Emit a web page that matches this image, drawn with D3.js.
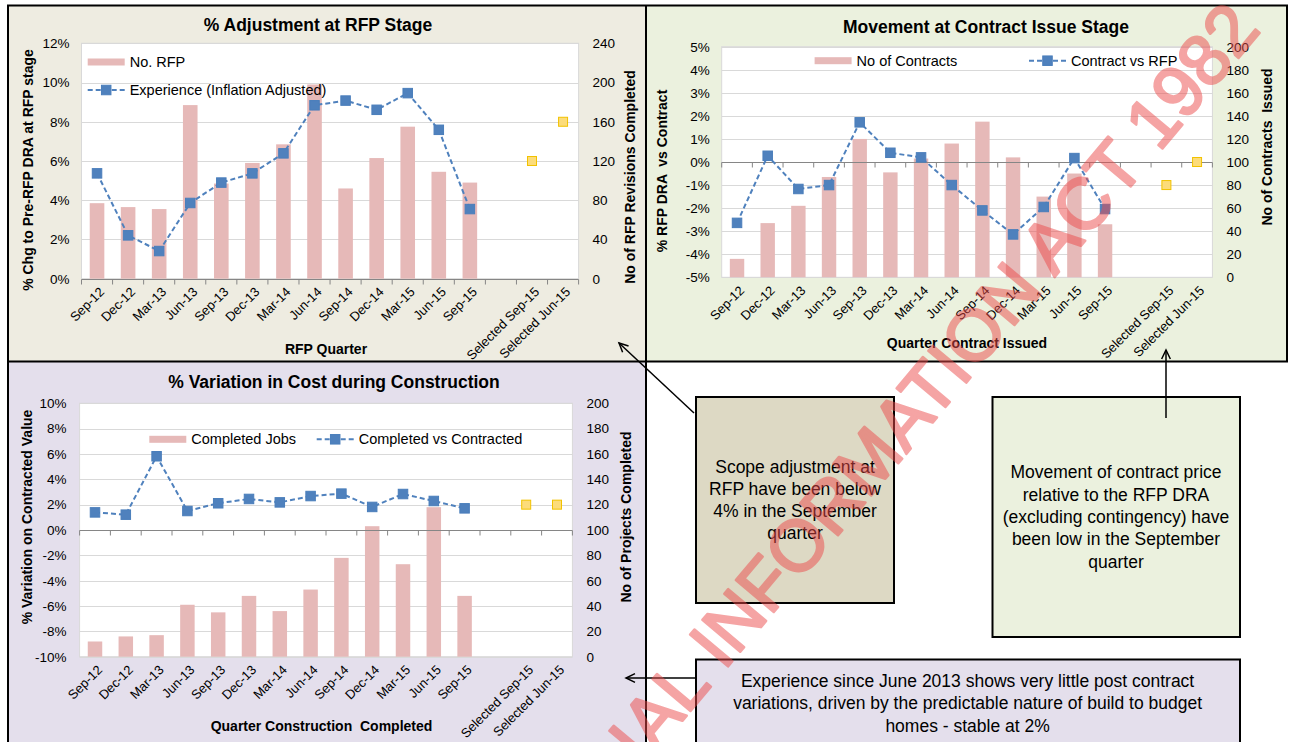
<!DOCTYPE html>
<html>
<head>
<meta charset="utf-8">
<script src="https://cdn.jsdelivr.net/npm/d3@7"></script>
<style>
  html, body { margin: 0; padding: 0; background: #ffffff; overflow: hidden; }
  svg { display: block; font-family: "Liberation Sans", Arial, sans-serif; }
  text { white-space: pre; }
</style>
</head>
<body>
<svg id="board" width="1291" height="742"></svg>
<script>
// ---- data -------------------------------------------------------------
const quarters = ["Sep-12", "Dec-12", "Mar-13", "Jun-13", "Sep-13", "Dec-13", "Mar-14",
  "Jun-14", "Sep-14", "Dec-14", "Mar-15", "Jun-15", "Sep-15", "", "Selected Sep-15", "Selected Jun-15"];
const selectedSlots = [14, 15];

// RFP stage
const rfpCount = [77, 73, 71, 177, 97, 118, 137, 198, 92, 123, 155, 109, 98];
const rfpExperience = [5.37, 2.21, 1.41, 3.86, 4.90, 5.37, 6.39, 8.84, 9.08, 8.61, 9.46, 7.59, 3.55];
const rfpSelected = [6, 8];
const rfpPctTicks = [0, 2, 4, 6, 8, 10, 12];
const rfpCountTicks = [0, 40, 80, 120, 160, 200, 240];

// contract issue stage
const contractCount = [16, 47, 62, 87, 120, 91, 103, 116, 135, 104, 70, 90, 46];
const contractVsRfp = [-2.64, 0.27, -1.17, -1.0, 1.72, 0.40, 0.20, -1.0, -2.10, -3.14, -1.95, 0.17, -2.04];
const contractSelected = [-1, 0];
const contractPctTicks = [-5, -4, -3, -2, -1, 0, 1, 2, 3, 4, 5];
const contractCountTicks = [0, 20, 40, 60, 80, 100, 120, 140, 160, 180, 200];

// construction
const completedJobs = [12, 16, 17, 41, 35, 48, 36, 53, 78, 103, 73, 118, 48];
const completedVsContracted = [1.39, 1.21, 5.82, 1.50, 2.11, 2.45, 2.18, 2.68, 2.87, 1.82, 2.84, 2.29, 1.71];
const constructionSelected = [2, 2];
const constructionPctTicks = [-10, -8, -6, -4, -2, 0, 2, 4, 6, 8, 10];
const constructionCountTicks = [0, 20, 40, 60, 80, 100, 120, 140, 160, 180, 200];

// ---- styles -----------------------------------------------------------
const BAR = "#e6b9b8";
const LINE = "#4f81bd";
const GRID = "#d9d9d9";
const AXIS = "#868686";

const svg = d3.select("#board");

// panel backgrounds
svg.append("rect").attr("x", 8).attr("y", 5.5).attr("width", 638).attr("height", 356).attr("fill", "#eeece1");
svg.append("rect").attr("x", 646).attr("y", 5.5).attr("width", 641).attr("height", 356).attr("fill", "#ebf1de");
svg.append("rect").attr("x", 8).attr("y", 361.5).attr("width", 638).attr("height", 381).attr("fill", "#e4dfec");

function marker(g, cx, cy, fill, stroke, size) {
  g.append("rect")
    .attr("x", cx - size / 2).attr("y", cy - size / 2)
    .attr("width", size).attr("height", size)
    .attr("fill", fill).attr("stroke", stroke).attr("stroke-width", 1);
}

function drawChart(o) {
  const g = svg.append("g");
  const x = d3.scaleBand().domain(d3.range(quarters.length)).range([o.left, o.right]);
  const bw = x.bandwidth();
  const yPct = d3.scaleLinear().domain(d3.extent(o.pctTicks)).range([o.bottom, o.top]);
  const yCnt = d3.scaleLinear().domain(d3.extent(o.countTicks)).range([o.bottom, o.top]);

  // plot area
  g.append("rect").attr("x", o.left).attr("y", o.top)
    .attr("width", o.right - o.left).attr("height", o.bottom - o.top)
    .attr("fill", "#ffffff").attr("stroke", GRID).attr("stroke-width", 1);

  // gridlines
  g.selectAll(".grid").data(o.pctTicks).join("line")
    .attr("x1", o.left).attr("x2", o.right)
    .attr("y1", d => Math.round(yPct(d)) + 0.5).attr("y2", d => Math.round(yPct(d)) + 0.5)
    .attr("stroke", GRID).attr("stroke-width", 1);

  // bars (right axis)
  g.selectAll(".bar").data(o.counts).join("rect")
    .attr("x", (d, i) => x(i) + bw * 0.265)
    .attr("width", bw * 0.47)
    .attr("y", d => yCnt(d))
    .attr("height", d => yCnt(0) - yCnt(d))
    .attr("fill", BAR);

  // category axis at 0%
  const ya = Math.round(yPct(0)) + 0.5;
  g.append("line").attr("x1", o.left).attr("x2", o.right).attr("y1", ya).attr("y2", ya)
    .attr("stroke", AXIS).attr("stroke-width", 1.2);
  const bounds = d3.range(quarters.length + 1).map(i => i < quarters.length ? x(i) : o.right);
  g.selectAll(".tick").data(bounds).join("line")
    .attr("x1", d => d).attr("x2", d => d).attr("y1", ya).attr("y2", ya + 5)
    .attr("stroke", AXIS).attr("stroke-width", 1);

  // value axes
  const left = g.append("g").attr("transform", `translate(${o.left},0)`)
    .call(d3.axisLeft(yPct).tickValues(o.pctTicks).tickFormat(d => d + "%").tickSize(0).tickPadding(o.leftPad));
  const right = g.append("g").attr("transform", `translate(${o.right},0)`)
    .call(d3.axisRight(yCnt).tickValues(o.countTicks).tickFormat(d3.format("d")).tickSize(0).tickPadding(o.rightPad));
  [left, right].forEach(a => {
    a.select(".domain").remove();
    a.selectAll("text").attr("font-size", 13.5).attr("fill", "#000")
      .attr("font-family", "'Liberation Sans', Arial, sans-serif");
  });

  // rotated category labels
  g.selectAll(".cat").data(quarters).join("text")
    .attr("transform", (d, i) => `translate(${x(i) + bw / 2 + 8},${o.bottom + 14}) rotate(-45)`)
    .attr("text-anchor", "end")
    .attr("font-size", 13)
    .text(d => d);

  // series line
  const pts = o.pct.map((v, i) => [x(i) + bw / 2, yPct(v)]);
  g.append("path").attr("d", d3.line()(pts))
    .attr("fill", "none").attr("stroke", LINE).attr("stroke-width", 2)
    .attr("stroke-dasharray", "5,3");
  pts.forEach(p => marker(g, p[0], p[1], LINE, "#4a7ebb", 9.5));

  // selected points
  o.selected.forEach((v, k) => {
    const i = selectedSlots[k];
    marker(g, x(i) + bw / 2, yPct(v), "#fcdc7a", "#f2c200", 9);
  });

  // legend
  o.legend.forEach(it => {
    if (it.type === "bar") {
      g.append("rect").attr("x", it.x).attr("y", it.y - 3.5).attr("width", 37).attr("height", 7).attr("fill", BAR);
    } else {
      g.append("line").attr("x1", it.x).attr("x2", it.x + 37).attr("y1", it.y).attr("y2", it.y)
        .attr("stroke", LINE).attr("stroke-width", 2).attr("stroke-dasharray", "5,3");
      marker(g, it.x + 18.5, it.y, LINE, "#4a7ebb", 9.5);
    }
    g.append("text").attr("x", it.x + 42).attr("y", it.y).attr("dy", "0.35em")
      .attr("font-size", 14.5).text(it.label);
  });

  // titles
  g.append("text").attr("x", o.titleX).attr("y", o.titleY).attr("dy", "0.35em")
    .attr("text-anchor", "middle").attr("font-size", 17.5).attr("font-weight", "bold").text(o.title);
  g.append("text").attr("transform", `translate(${o.leftTitle[1]},${o.leftTitle[2]}) rotate(-90)`)
    .attr("dy", "0.35em").attr("text-anchor", "middle").attr("font-size", 14).attr("font-weight", "bold")
    .text(o.leftTitle[0]);
  g.append("text").attr("transform", `translate(${o.rightTitle[1]},${o.rightTitle[2]}) rotate(-90)`)
    .attr("dy", "0.35em").attr("text-anchor", "middle").attr("font-size", 14).attr("font-weight", "bold")
    .text(o.rightTitle[0]);
  g.append("text").attr("x", o.xTitle[1]).attr("y", o.xTitle[2]).attr("dy", "0.35em")
    .attr("text-anchor", "middle").attr("font-size", 14).attr("font-weight", "bold")
    .text(o.xTitle[0]);
}

drawChart({
  left: 81.5, right: 578.6, top: 43.3, bottom: 278.7,
  pctTicks: rfpPctTicks, countTicks: rfpCountTicks,
  counts: rfpCount, pct: rfpExperience, selected: rfpSelected,
  leftPad: 12, rightPad: 14,
  title: "% Adjustment at RFP Stage", titleX: 318, titleY: 25,
  leftTitle: ["% Chg to Pre-RFP DRA at RFP stage", 28, 170],
  rightTitle: ["No of RFP Revisions Completed", 630, 177],
  xTitle: ["RFP Quarter", 326, 349],
  legend: [
    { type: "bar", x: 87.7, y: 62, label: "No. RFP" },
    { type: "line", x: 87.7, y: 90, label: "Experience (Inflation Adjusted)" }
  ]
});

drawChart({
  left: 721.7, right: 1212.4, top: 46.7, bottom: 277.3,
  pctTicks: contractPctTicks, countTicks: contractCountTicks,
  counts: contractCount, pct: contractVsRfp, selected: contractSelected,
  leftPad: 12, rightPad: 14,
  title: "Movement at Contract Issue Stage", titleX: 986, titleY: 26.7,
  leftTitle: ["% RFP DRA  vs Contract", 662, 171],
  rightTitle: ["No of Contracts  Issued", 1267, 147],
  xTitle: ["Quarter Contract Issued", 967, 342.7],
  legend: [
    { type: "bar", x: 814.6, y: 60.7, label: "No of Contracts" },
    { type: "line", x: 1029, y: 60.7, label: "Contract vs RFP" }
  ]
});

drawChart({
  left: 79.6, right: 572.4, top: 403.3, bottom: 656.7,
  pctTicks: constructionPctTicks, countTicks: constructionCountTicks,
  counts: completedJobs, pct: completedVsContracted, selected: constructionSelected,
  leftPad: 13, rightPad: 14,
  title: "% Variation in Cost during Construction", titleX: 334, titleY: 381.7,
  leftTitle: ["% Variation on Contracted Value", 27, 517],
  rightTitle: ["No of Projects Completed", 626.5, 517],
  xTitle: ["Quarter Construction  Completed", 321.5, 725.7],
  legend: [
    { type: "bar", x: 149.3, y: 439.3, label: "Completed Jobs" },
    { type: "line", x: 316.7, y: 439.3, label: "Completed vs Contracted" }
  ]
});

// ---- panel borders -------------------------------------------------------
const border = svg.append("g").attr("stroke", "#000").attr("stroke-width", 2).attr("fill", "none");
border.append("line").attr("x1", 7).attr("x2", 1288).attr("y1", 5.5).attr("y2", 5.5);
border.append("line").attr("x1", 8).attr("x2", 8).attr("y1", 5).attr("y2", 742);
border.append("line").attr("x1", 1287).attr("x2", 1287).attr("y1", 5).attr("y2", 362);
border.append("line").attr("x1", 646).attr("x2", 646).attr("y1", 5).attr("y2", 742);
border.append("line").attr("x1", 8).attr("x2", 1288).attr("y1", 361.5).attr("y2", 361.5);

// ---- commentary boxes ------------------------------------------------------
function note(x0, y0, w, h, fill, lines, cx, firstY, step) {
  svg.append("rect").attr("x", x0).attr("y", y0).attr("width", w).attr("height", h)
    .attr("fill", fill).attr("stroke", "#000").attr("stroke-width", 2);
  lines.forEach((t, i) => {
    svg.append("text").attr("x", cx).attr("y", firstY + i * step).attr("dy", "0.35em")
      .attr("text-anchor", "middle").attr("font-size", 17.5).text(t);
  });
}
function arrow(x1, y1, x2, y2) {
  const a = Math.atan2(y2 - y1, x2 - x1), L = 10, s = 0.45;
  svg.append("line").attr("x1", x1).attr("y1", y1).attr("x2", x2).attr("y2", y2)
    .attr("stroke", "#000").attr("stroke-width", 1.5);
  const p1 = [x2 - L * Math.cos(a - s), y2 - L * Math.sin(a - s)];
  const p2 = [x2 - L * Math.cos(a + s), y2 - L * Math.sin(a + s)];
  svg.append("path").attr("d", `M${p1}L${x2},${y2}L${p2}`)
    .attr("fill", "none").attr("stroke", "#000").attr("stroke-width", 1.5);
}

note(696, 397, 198, 206, "#ddd9c4",
  ["Scope adjustment at", "RFP have been below", "4% in the September", "quarter"], 795, 466.7, 22.2);
note(992.5, 397, 247.5, 240, "#ebf1de",
  ["Movement of contract price", "relative to the RFP DRA", "(excluding contingency) have", "been low in the September", "quarter"],
  1116, 472.3, 22.3);
note(696, 659.5, 544, 90, "#e4dfec",
  ["Experience since June 2013 shows very little post contract",
   "variations, driven by the predictable nature of build to budget",
   "homes - stable at 2%"], 967.6, 680.7, 22.5);

arrow(694, 413, 619, 343);
arrow(1166, 418, 1166, 350);
arrow(696, 678, 626, 678);

// ---- release stamp -----------------------------------------------------
svg.append("text")
  .attr("transform", "translate(1262,30) rotate(-50)")
  .attr("text-anchor", "end")
  .attr("font-size", 72)
  .attr("fill", "#ec4b4b")
  .attr("stroke", "#ec4b4b")
  .attr("stroke-width", 2.5)
  .attr("stroke-linejoin", "round")
  .attr("opacity", 0.5)
  .text("RELEASED UNDER THE OFFICIAL INFORMATION ACT 1982");
</script>
</body>
</html>
